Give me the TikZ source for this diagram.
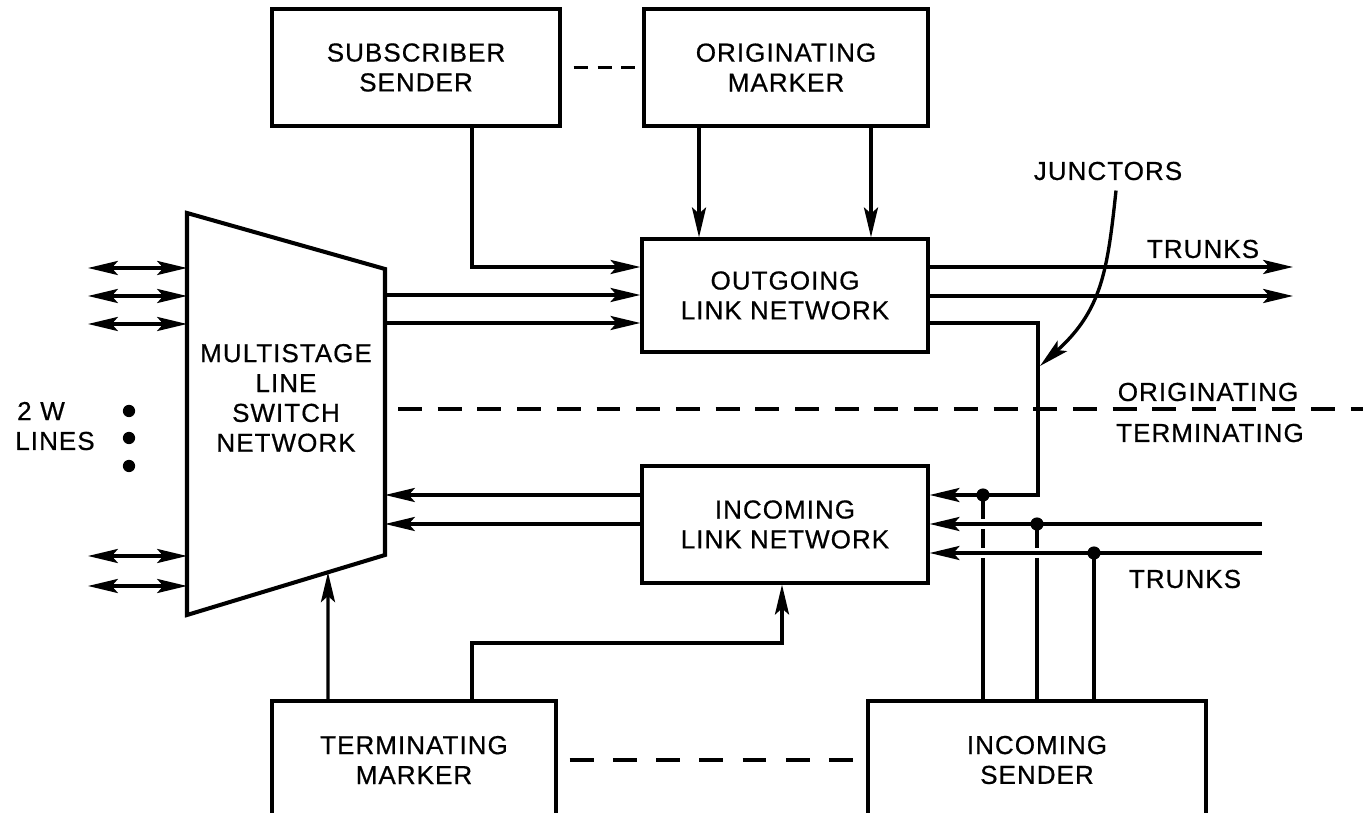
\documentclass[tikz,border=0pt]{standalone}
\usepackage{fontspec}
\setmainfont[FakeBold=0.6, LetterSpace=4]{Liberation Sans}
\usetikzlibrary{arrows.meta,calc}

\begin{document}
\begin{tikzpicture}[
      x=0.02cm, y=-0.02cm,
      blk/.style={draw=black, line width=1.9pt, align=center,
                  inner sep=0pt, font=\fontsize{14.8}{17}\selectfont},
      lbl/.style={inner sep=0pt, align=center,
                  font=\fontsize{14.8}{17}\selectfont},
      wire/.style={line width=1.9pt},
      arr/.style={wire, -{Stealth[length=17pt, width=8pt, inset=3.5pt]}},
      dbl/.style={wire, {Stealth[length=17pt, width=8pt, inset=3.5pt]}-{Stealth[length=17pt, width=8pt, inset=3.5pt]}},
      sep/.style={wire, dash pattern=on 13.6pt off 9pt},
      ssep/.style={wire, dash pattern=on 8pt off 5.6pt},
      jdot/.style={circle, fill=black, inner sep=0pt, minimum size=7.5pt},
    ]
    \useasboundingbox (0,0) rectangle (1363,813);
    \clip (0,0) rectangle (1363,813);
    %% rows of the connectors
    \coordinate (ra) at (0,267);
    \coordinate (rb) at (0,295);
    \coordinate (rc) at (0,323);
    \coordinate (rd) at (0,495);
    \coordinate (re) at (0,524);
    \coordinate (rf) at (0,553);
    %% boxes
    \node[blk, minimum width=5.76cm, minimum height=2.34cm] (subs) at (416,67.5) {SUBSCRIBER\\SENDER};
    \node[blk, minimum width=5.68cm, minimum height=2.34cm] (origm) at (786,67.5) {ORIGINATING\\MARKER};
    \node[blk, minimum width=5.72cm, minimum height=2.26cm] (outln) at (785,295.5) {OUTGOING\\LINK NETWORK};
    \node[blk, minimum width=5.72cm, minimum height=2.34cm] (incln) at (785,524.5) {INCOMING\\LINK NETWORK};
    \node[blk, minimum width=5.68cm, minimum height=2.36cm] (termm) at (414,760) {TERMINATING\\MARKER};
    \node[blk, minimum width=6.76cm, minimum height=2.36cm] (incs) at (1037,760) {INCOMING\\SENDER};
    %% line switch network (trapezoid)
    \coordinate (msl-tl) at (187,213);
    \coordinate (msl-tr) at (385,269);
    \coordinate (msl-br) at (385,555);
    \coordinate (msl-bl) at (187,615);
    \draw[line width=2.3pt, line join=miter] (msl-tl) -- (msl-tr) -- (msl-br) -- (msl-bl) -- cycle;
    \node[lbl] (msl) at (286,398) {MULTISTAGE\\LINE\\SWITCH\\NETWORK};
    %% 2W lines
    \foreach \y [count=\i] in {268,296,324,556,586}{
      \coordinate (l\i) at (88,\y);
      \draw[dbl] (l\i) -- (msl-tl |- l\i);
    }
    \foreach \y [count=\i] in {411,438,466}{
      \node[circle, fill=black, inner sep=0pt, minimum size=7pt] (v\i) at (129,\y) {};
    }
    \node[lbl] (tw) at (41,411) {2\,\,W};
    \node[lbl] (lines) at (55,441) {LINES};
    %% originating side
    \draw[ssep] ([xshift=0.24cm]subs.east) -- ([xshift=-0.14cm]origm.west);
    \draw[arr] ([xshift=1.12cm]subs.south) |- (outln.west |- ra);
    \draw[arr] (msl-tr |- rb) -- (outln.west |- rb);
    \draw[arr] (msl-tr |- rc) -- (outln.west |- rc);
    \draw[arr] ([xshift=-1.74cm]origm.south) -- ([xshift=-1.74cm]origm.south |- outln.north);
    \draw[arr] ([xshift=1.70cm]origm.south) -- ([xshift=1.70cm]origm.south |- outln.north);
    \coordinate (t1) at (1293,267);
    \coordinate (t2) at (1293,296);
    \draw[arr] (outln.east |- t1) -- (t1);
    \draw[arr] (outln.east |- t2) -- (t2);
    \node[lbl] (trk1) at (1203,249) {TRUNKS};
    %% junctors
    \coordinate (jc) at (1038,495);
    \draw[arr] (outln.east |- rc) -| (jc) -- (incln.east |- jc);
    \node[lbl] (jlab) at (1108,171) {JUNCTORS};
    \coordinate (jtip) at (1040,366);
    \draw[arr] ([xshift=0.16cm, yshift=-0.2cm]jlab.south) to[out=-96, in=42, looseness=1.1] (jtip);
    %% originating / terminating
    \coordinate (sepl) at (398,409);
    \coordinate (sepr) at (1363,409);
    \draw[sep] (sepl) -- (sepr);
    \node[lbl] (orig) at (1208,392) {ORIGINATING};
    \node[lbl] (term) at (1210,433) {TERMINATING};
    %% terminating side
    \draw[arr] (incln.west |- rd) -- (msl-br |- rd);
    \draw[arr] (incln.west |- re) -- (msl-br |- re);
    \coordinate (t3) at (1262,524);
    \coordinate (t4) at (1262,553);
    \draw[arr] (t3) -- (incln.east |- t3);
    \draw[arr] (t4) -- (incln.east |- t4);
    \node[lbl] (trk2) at (1185,579) {TRUNKS};
    \node[jdot] (k1) at (983,495) {};
    \node[jdot] (k2) at (1037,524) {};
    \node[jdot] (k3) at (1094,553) {};
    %% sender leads, broken where they cross
    \draw[wire] (k1.center) -- ([yshift=0.1cm]k1 |- t3) ([yshift=-0.1cm]k1 |- t3) -- ([yshift=0.1cm]k1 |- t4)
                ([yshift=-0.1cm]k1 |- t4) -- (k1 |- incs.north);
    \draw[wire] (k2.center) -- ([yshift=0.1cm]k2 |- t4) ([yshift=-0.1cm]k2 |- t4) -- (k2 |- incs.north);
    \draw[wire] (k3.center) -- (k3 |- incs.north);
    %% markers
    \draw[ssep, dash pattern=on 13.6pt off 11pt] ([xshift=0.24cm]termm.east) -- ([xshift=-0.26cm]incs.west);
    \coordinate (msl-in) at ($(msl-bl)!0.712!(msl-br)$);
    \draw[arr] ([xshift=-1.72cm]termm.north) -- (msl-in);
    \coordinate (tjog) at (782,643);
    \draw[arr] ([xshift=1.16cm]termm.north) |- (tjog) -- (tjog |- incln.south);
    \end{tikzpicture}
\end{document}
